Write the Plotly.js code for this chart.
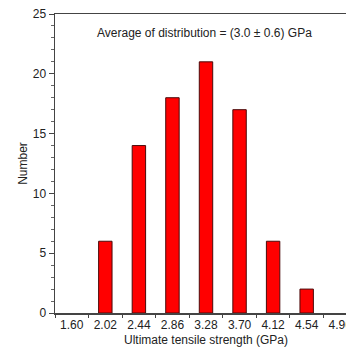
<!DOCTYPE html>
<html>
<head>
<meta charset="utf-8">
<script src="https://cdn.plot.ly/plotly-3.0.1.min.js"></script>
<style>
html,body{margin:0;padding:0;overflow:hidden;background:#fff;}
#chart{width:370px;height:347px;}
</style>
</head>
<body>
<div id="chart"></div>
<script>
const categories = ["1.60","2.02","2.44","2.86","3.28","3.70","4.12","4.54","4.96"];
const counts = [null,6,14,18,21,17,6,2,null];
const yTicks = [0,5,10,15,20,25];
const annotationText = "Average of distribution = (3.0 \u00b1 0.6) GPa";

const font = {family: "Liberation Sans, Arial, sans-serif", size: 12, color: "#222"};

Plotly.newPlot("chart", [{
  type: "bar",
  x: categories,
  y: counts,
  width: 0.4,
  marker: {color: "#ff0000", line: {color: "#4a0a0a", width: 1}},
  hoverinfo: "skip"
}], {
  width: 370,
  height: 347,
  margin: {l: 55, r: 13, t: 14, b: 34},
  paper_bgcolor: "#fff",
  plot_bgcolor: "#fff",
  font: font,
  showlegend: false,
  xaxis: {
    type: "category",
    range: [-0.5, 8.5],
    showline: true, linecolor: "#444", linewidth: 1.5,
    mirror: true,
    ticks: "outside", ticklen: 3, tickwidth: 1, tickcolor: "#444",
    tickson: "boundaries",
    showgrid: false, zeroline: false,
    tickfont: font,
    title: {text: "Ultimate tensile strength (GPa)", font: font, standoff: 4}
  },
  yaxis: {
    range: [0, 25],
    tickvals: yTicks,
    showline: true, linecolor: "#444", linewidth: 1.5,
    ticks: "outside", ticklen: 5, tickwidth: 1, tickcolor: "#444",
    minor: {dtick: 1, ticks: "outside", ticklen: 3, tickwidth: 1, tickcolor: "#666", showgrid: false},
    showgrid: false, zeroline: false,
    tickfont: font,
    title: {text: "Number", font: font, standoff: 2}
  },
  annotations: [{
    xref: "paper", yref: "paper",
    x: 0.495, y: 0.935, xanchor: "center", yanchor: "middle",
    text: annotationText, showarrow: false, font: font
  }]
}, {staticPlot: true, displayModeBar: false});
</script>
</body>
</html>
